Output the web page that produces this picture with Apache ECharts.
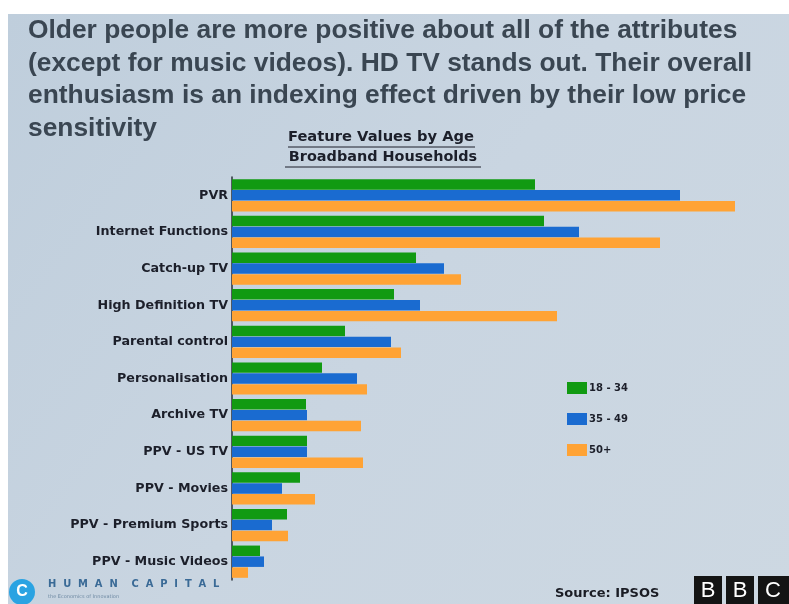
<!DOCTYPE html>
<html><head><meta charset="utf-8">
<script src="https://cdn.jsdelivr.net/npm/echarts@6/dist/echarts.min.js"></script>
<style>html,body{margin:0;padding:0;background:#fff}#c{width:789px;height:604px}</style>
</head><body><div id="c"></div>
<script>
const categories = ["PVR","Internet Functions","Catch-up TV","High Definition TV","Parental control","Personalisation","Archive TV","PPV - US TV","PPV - Movies","PPV - Premium Sports","PPV - Music Videos"];
const seriesNames = ["18 - 34","35 - 49","50+"];
const age18to34 = [303,312,184,162,113,90,74,75,68,55,28];
const age35to49 = [448,347,212,188,159,125,75,75,50,40,32];
const age50plus = [503,428,229,325,169,135,129,131,83,56,16];
const colors = ["#119a12","#1a6bd0","#ffa335"];
const titleLines = ["Older people are more positive about all of the attributes","(except for music videos). HD TV stands out. Their overall","enthusiasm is an indexing effect driven by their low price","sensitivity"];

const chart = echarts.init(document.getElementById('c'));
const titleGraphics = titleLines.map((t,i)=>({
  type:'text', x:28, y:19+i*32.5, scaleX:1.055, z:5,
  style:{text:t, font:'bold 25px "Liberation Sans", Arial, sans-serif', fill:'#3a4652'}
}));
chart.setOption({
  animation:false,
  backgroundColor:'#ffffff',
  graphic:[
    {type:'rect', shape:{x:8,y:14,width:781,height:590}, z:-10,
     style:{fill:new echarts.graphic.LinearGradient(0,0,1,1,[{offset:0,color:'#bfcedc'},{offset:0.5,color:'#c9d5e1'},{offset:1,color:'#cdd8e2'}])}},
    ...titleGraphics,
    {type:'text', x:381, y:130, scaleX:1.05, style:{text:'Feature Values by Age', font:'bold 14px "DejaVu Sans", sans-serif', fill:'#1c1f2a', align:'center'}},
    {type:'line', shape:{x1:288,y1:147,x2:475,y2:147}, style:{stroke:'#1c1f2a', lineWidth:1}},
    {type:'text', x:383, y:150, scaleX:1.03, style:{text:'Broadband Households', font:'bold 14px "DejaVu Sans", sans-serif', fill:'#1c1f2a', align:'center'}},
    {type:'line', shape:{x1:285,y1:167,x2:481,y2:167}, style:{stroke:'#1c1f2a', lineWidth:1}},
    {type:'circle', shape:{cx:22,cy:592,r:13}, style:{fill:'#2aa3e2'}},
    {type:'text', x:22, y:592, style:{text:'C', font:'bold 16px "Liberation Sans", Arial', fill:'#ffffff', align:'center', verticalAlign:'middle'}},
    {type:'text', x:48, y:579, scaleX:0.9, style:{text:'H  U  M  A  N    C  A  P  I  T  A  L', font:'bold 11px "DejaVu Sans", sans-serif', fill:'#3a6a96'}},
    {type:'text', x:48, y:594, style:{text:'the Economics of Innovation', font:'5px "DejaVu Sans", sans-serif', fill:'#6f8aa3'}},
    {type:'text', x:555, y:587, style:{text:'Source: IPSOS', font:'bold 13px "DejaVu Sans", sans-serif', fill:'#1a1c24'}},
    {type:'rect', shape:{x:694,y:576,width:28,height:28}, style:{fill:'#141414'}},
    {type:'rect', shape:{x:726,y:576,width:28,height:28}, style:{fill:'#141414'}},
    {type:'rect', shape:{x:758,y:576,width:31,height:28}, style:{fill:'#141414'}},
    {type:'text', x:708, y:591, style:{text:'B', font:'22px "Liberation Sans", Arial', fill:'#ffffff', align:'center', verticalAlign:'middle'}},
    {type:'text', x:740, y:591, style:{text:'B', font:'22px "Liberation Sans", Arial', fill:'#ffffff', align:'center', verticalAlign:'middle'}},
    {type:'text', x:773, y:591, style:{text:'C', font:'22px "Liberation Sans", Arial', fill:'#ffffff', align:'center', verticalAlign:'middle'}}
  ],
  legend:{
    orient:'vertical', left:562, top:377, itemWidth:20, itemHeight:12, itemGap:19,
    icon:'rect', data:seriesNames,
    textStyle:{fontFamily:'"DejaVu Sans", sans-serif', fontWeight:'bold', fontSize:10, color:'#1c1f2a', padding:[0,0,0,-3]}
  },
  grid:{left:232, right:7, top:177, bottom:24, containLabel:false},
  xAxis:{type:'value', min:0, max:550, show:false},
  yAxis:{type:'category', data:categories, inverse:true,
    axisLine:{show:true, lineStyle:{color:'#2a3038', width:1.5}},
    axisTick:{show:false},
    axisLabel:{fontFamily:'"DejaVu Sans", sans-serif', fontWeight:'bold', fontSize:12.7, color:'#1c1f2a', margin:4}
  },
  series:[
    {name:seriesNames[0], type:'bar', data:age18to34, itemStyle:{color:colors[0]}, barGap:'4%', barCategoryGap:'12%'},
    {name:seriesNames[1], type:'bar', data:age35to49, itemStyle:{color:colors[1]}, barGap:'4%', barCategoryGap:'12%'},
    {name:seriesNames[2], type:'bar', data:age50plus, itemStyle:{color:colors[2]}, barGap:'4%', barCategoryGap:'12%'}
  ]
});
</script></body></html>
